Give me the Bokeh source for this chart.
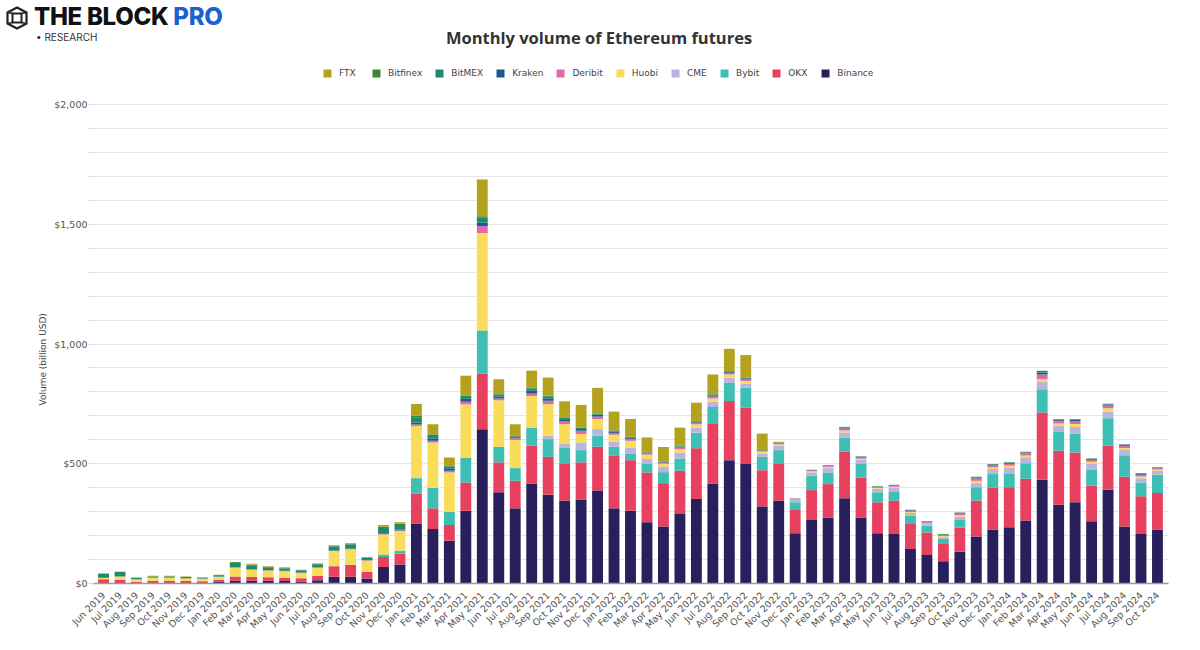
from math import pi
from bokeh.plotting import figure
from bokeh.layouts import column
from bokeh.models import (ColumnDataSource, Range1d, FixedTicker, Legend,
                          LegendItem, Title, Div)
from bokeh.embed import file_html
from bokeh.resources import INLINE

months = ["Jun 2019", "Jul 2019", "Aug 2019", "Sep 2019", "Oct 2019", "Nov 2019", "Dec 2019",
          "Jan 2020", "Feb 2020", "Mar 2020", "Apr 2020", "May 2020", "Jun 2020", "Jul 2020",
          "Aug 2020", "Sep 2020", "Oct 2020", "Nov 2020", "Dec 2020",
          "Jan 2021", "Feb 2021", "Mar 2021", "Apr 2021", "May 2021", "Jun 2021", "Jul 2021",
          "Aug 2021", "Sep 2021", "Oct 2021", "Nov 2021", "Dec 2021",
          "Jan 2022", "Feb 2022", "Mar 2022", "Apr 2022", "May 2022", "Jun 2022", "Jul 2022",
          "Aug 2022", "Sep 2022", "Oct 2022", "Nov 2022", "Dec 2022",
          "Jan 2023", "Feb 2023", "Mar 2023", "Apr 2023", "May 2023", "Jun 2023", "Jul 2023",
          "Aug 2023", "Sep 2023", "Oct 2023", "Nov 2023", "Dec 2023",
          "Jan 2024", "Feb 2024", "Mar 2024", "Apr 2024", "May 2024", "Jun 2024", "Jul 2024",
          "Aug 2024", "Sep 2024", "Oct 2024"]

binance = [0, 0, 0, 0, 0, 0, 0, 8, 12, 11, 11, 10, 8, 14, 28, 28, 21, 69, 79,
           251, 228, 179, 304, 644, 381, 314, 418, 371, 346, 349, 388,
           314, 304, 256, 238, 290, 353, 418, 515, 499, 322, 346, 210,
           265, 276, 356, 276, 210, 207, 144, 119, 93, 133, 196, 225,
           235, 263, 433, 329, 339, 260, 392, 238, 207, 225]
okx = [18, 15, 6, 11, 11, 10, 9, 8, 17, 16, 15, 14, 14, 17, 44, 50, 28, 42, 46,
       125, 86, 65, 118, 232, 125, 115, 157, 158, 153, 157, 183,
       219, 211, 208, 181, 181, 212, 251, 247, 236, 151, 153, 97,
       125, 139, 194, 167, 129, 139, 104, 94, 72, 101, 150, 176,
       167, 174, 281, 225, 208, 149, 183, 208, 157, 153]
bybit = [0, 0, 0, 0, 0, 0, 0, 0, 0, 0, 0, 0, 0, 0, 0, 0, 0, 10, 12,
         64, 85, 56, 104, 181, 65, 53, 76, 74, 67, 51, 46,
         38, 28, 35, 46, 51, 65, 68, 76, 83, 56, 58, 32,
         60, 49, 60, 56, 42, 39, 35, 28, 21, 31, 56, 56,
         58, 65, 97, 79, 79, 65, 115, 90, 58, 76]
cme = [0, 0, 0, 0, 0, 0, 0, 0, 0, 0, 0, 0, 0, 0, 0, 0, 0, 0, 0,
       0, 0, 0, 0, 0, 0, 0, 0, 14, 17, 32, 28,
       22, 25, 21, 24, 25, 21, 22, 21, 17, 14, 18, 14,
       14, 18, 21, 17, 14, 14, 11, 7, 7, 14, 17, 21,
       25, 25, 31, 25, 28, 25, 28, 21, 18, 17]
huobi = [5, 14, 12, 13, 13, 12, 11, 12, 38, 30, 28, 27, 22, 35, 64, 65, 47, 84, 82,
         218, 190, 164, 222, 407, 194, 117, 132, 132, 83, 35, 42,
         28, 28, 18, 11, 14, 14, 14, 14, 11, 8, 6, 2,
         5, 5, 8, 5, 4, 5, 5, 4, 5, 6, 10, 7,
         7, 8, 11, 10, 12, 9, 14, 9, 7, 5]
deribit = [0, 0, 0, 0, 0, 0, 0, 0, 0, 1, 1, 1, 1, 1, 1, 1, 1, 2, 2,
           6, 7, 7, 11, 28, 8, 8, 10, 14, 11, 14, 10,
           8, 8, 5, 5, 7, 7, 8, 7, 7, 3, 4, 1,
           3, 4, 8, 5, 4, 5, 5, 4, 5, 7, 10, 8,
           8, 9, 20, 12, 13, 9, 11, 9, 7, 5]
kraken = [1, 1, 1, 1, 1, 1, 1, 1, 1, 1, 1, 1, 1, 1, 2, 2, 1, 3, 3,
          8, 10, 10, 12, 14, 8, 4, 12, 10, 9, 7, 8,
          6, 5, 3, 3, 4, 4, 5, 4, 4, 2, 2, 1,
          2, 2, 4, 3, 2, 2, 2, 2, 2, 3, 4, 3,
          3, 3, 8, 3, 4, 3, 5, 4, 3, 2]
bitmex = [17, 18, 4, 4, 4, 4, 3, 5, 19, 15, 10, 10, 8, 11, 15, 17, 10, 22, 20,
          20, 10, 8, 12, 24, 8, 3, 10, 9, 6, 5, 5,
          4, 3, 2, 2, 3, 3, 4, 3, 3, 1, 2, 0,
          1, 1, 3, 2, 1, 1, 2, 2, 2, 2, 3, 3,
          3, 3, 7, 3, 3, 2, 3, 3, 3, 2]
bitfinex = [1, 1, 1, 1, 1, 1, 1, 1, 3, 4, 3, 3, 2, 3, 3, 3, 2, 5, 5,
            8, 7, 2, 2, 4, 2, 2, 2, 2, 2, 2, 1,
            1, 1, 0, 0, 0, 0, 0, 0, 0, 0, 0, 0,
            0, 0, 0, 0, 0, 0, 0, 0, 0, 0, 0, 0,
            0, 0, 0, 0, 0, 0, 0, 0, 0, 0]
ftx = [0, 0, 1, 2, 2, 1, 1, 2, 0, 4, 3, 2, 1, 3, 3, 3, 1, 7, 7,
       50, 42, 35, 83, 153, 62, 49, 72, 76, 67, 94, 106,
       78, 74, 62, 60, 76, 76, 83, 93, 94, 69, 3, 0,
       0, 0, 0, 0, 0, 0, 0, 0, 0, 0, 0, 0,
       0, 0, 0, 0, 0, 0, 0, 0, 0, 0]

names = ["Binance", "OKX", "Bybit", "CME", "Huobi", "Deribit", "Kraken", "BitMEX", "Bitfinex", "FTX"]
series = [binance, okx, bybit, cme, huobi, deribit, kraken, bitmex, bitfinex, ftx]
colors = ["#27205c", "#e8405f", "#3ebfb4", "#b9b6dd", "#f8dc5a", "#e466ad",
          "#1c5a8e", "#1e8a72", "#3b8a2e", "#b3a21e"]

y_ticks = [0, 500, 1000, 1500, 2000]
y_tick_labels = ["$0", "$500", "$1,000", "$1,500", "$2,000"]
y_minor = [100, 200, 300, 400, 600, 700, 800, 900, 1100, 1200, 1300, 1400,
           1600, 1700, 1800, 1900]

title_text = "Monthly volume of Ethereum futures"
y_label = "Volume (billion USD)"

data = {"x": list(range(len(months)))}
for n, s in zip(names, series):
    data[n] = s
src = ColumnDataSource(data)

W = 1184
HEADER_H = 52
H = 590

logo_svg = ('<svg width="24" height="24" viewBox="0 0 24 24" '
            'style="position:absolute;left:5px;top:6px;">'
            '<polygon points="12,1.5 21.5,6.5 21.5,17.5 12,22.5 2.5,17.5 2.5,6.5" '
            'fill="none" stroke="#222" stroke-width="2.2"/>'
            '<rect x="7.5" y="7.5" width="9" height="9" fill="none" stroke="#222" stroke-width="2"/>'
            '<line x1="2.5" y1="6.5" x2="7.5" y2="7.5" stroke="#222" stroke-width="1.6"/>'
            '<line x1="21.5" y1="6.5" x2="16.5" y2="7.5" stroke="#222" stroke-width="1.6"/>'
            '<line x1="2.5" y1="17.5" x2="7.5" y2="16.5" stroke="#222" stroke-width="1.6"/>'
            '<line x1="21.5" y1="17.5" x2="16.5" y2="16.5" stroke="#222" stroke-width="1.6"/>'
            '</svg>')

header_html = (
    f'<div style="position:relative;width:{W}px;height:{HEADER_H}px;">'
    + logo_svg +
    '<div style="position:absolute;left:34px;top:5px;font-family:Inter;font-weight:800;'
    'font-size:24px;line-height:24px;letter-spacing:-0.3px;color:#111;white-space:nowrap;">'
    'THE BLOCK <span style="color:#1f5fd1;">PRO</span></div>'
    '<div style="position:absolute;left:36px;top:32px;font-family:Inter;font-size:10px;'
    'line-height:10px;color:#333;white-space:nowrap;">&#8226; RESEARCH</div>'
    f'<div style="position:absolute;left:7px;top:29px;width:{W}px;text-align:center;'
    'font-family:\'Open Sans\';font-weight:700;font-size:16.5px;line-height:17px;'
    f'color:#333;white-space:nowrap;">{title_text}</div>'
    '</div>'
)
header = Div(text=header_html, width=W, height=HEADER_H, margin=0)

p = figure(width=W, height=H, output_backend="svg", toolbar_location=None,
           x_range=Range1d(-0.61, 64.67), y_range=Range1d(0, 2217.5),
           min_border_left=93, min_border_right=16, min_border_top=0,
           min_border_bottom=59, margin=0)
p.outline_line_color = None
p.background_fill_color = "white"
p.border_fill_color = "white"

renderers = p.vbar_stack(names, x="x", width=0.66, source=src,
                         fill_color=colors, line_color=None)

# axes
p.xaxis.ticker = FixedTicker(ticks=list(range(len(months))))
p.xaxis.major_label_overrides = {i: m for i, m in enumerate(months)}
p.xaxis.major_label_orientation = pi / 4
p.xaxis.major_label_text_font = "DejaVu Sans"
p.xaxis.major_label_text_font_size = "9.5px"
p.xaxis.major_label_text_color = "#555555"
p.xaxis.major_tick_line_color = None
p.xaxis.minor_tick_line_color = None
p.xaxis.axis_line_color = "#9a9a9a"
p.xaxis.axis_line_width = 1.5
p.xaxis.major_label_standoff = 4

p.yaxis.ticker = FixedTicker(ticks=y_ticks, minor_ticks=y_minor)
p.yaxis.major_label_overrides = {t: l for t, l in zip(y_ticks, y_tick_labels)}
p.yaxis.major_label_text_font = "DejaVu Sans"
p.yaxis.major_label_text_font_size = "9.5px"
p.yaxis.major_label_text_color = "#555555"
p.yaxis.axis_line_color = None
p.yaxis.major_tick_line_color = "#d6d6d6"
p.yaxis.minor_tick_line_color = "#d6d6d6"
p.yaxis.major_tick_out = 5
p.yaxis.major_tick_in = 0
p.yaxis.minor_tick_out = 5
p.yaxis.minor_tick_in = 0
p.yaxis.major_label_standoff = 1

p.xgrid.grid_line_color = None
p.ygrid.grid_line_color = "#e6e6e6"
p.ygrid.minor_grid_line_color = "#e6e6e6"

p.add_layout(Title(text=y_label, align="left", offset=178,
                   text_font="DejaVu Sans", text_font_style="normal",
                   text_font_size="9px", text_color="#444444", standoff=8), "left")

# legend
items = [LegendItem(label=n, renderers=[r]) for n, r in zip(names, renderers)][::-1]
legend = Legend(items=items, orientation="horizontal", location=(229, 505),
                glyph_width=10, glyph_height=10, label_standoff=7, spacing=12,
                padding=0, margin=0, background_fill_alpha=0,
                border_line_color=None,
                label_text_font="DejaVu Sans", label_text_font_size="9px",
                label_text_color="#444444", label_height=10)
p.add_layout(legend, "center")

layout = column(header, p, margin=0, spacing=0)
open("out.html", "w").write(file_html(layout, INLINE))
